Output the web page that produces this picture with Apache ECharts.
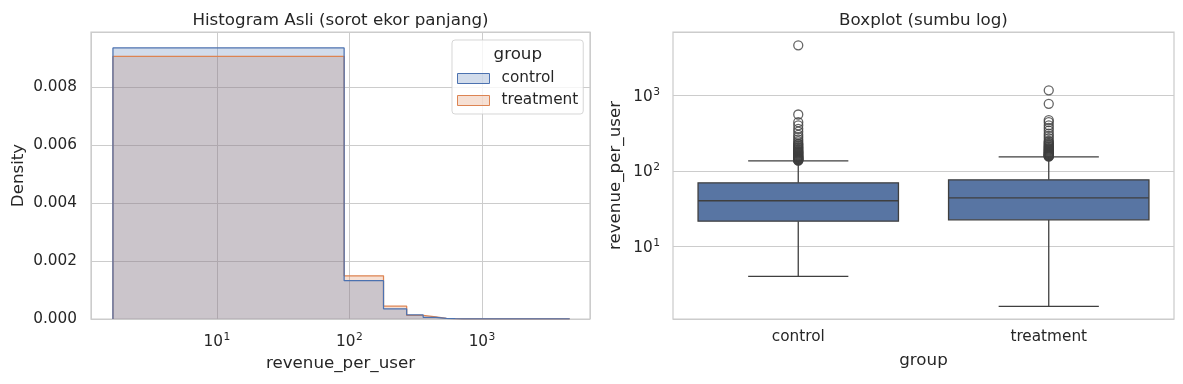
<!DOCTYPE html>
<html><head><meta charset="utf-8">
<script src="https://cdn.jsdelivr.net/npm/echarts@6/dist/echarts.min.js"></script>
<style>html,body{margin:0;padding:0;background:#fff}#c{width:1183px;height:384px}</style>
</head><body><div id="c"></div>
<script>
// ---- data ----
const groups = ['control', 'treatment'];
const binEdges = [1.64, 91.1, 180.6, 270.1, 359.6, 449.1, 538.6, 628.1, 717.6, 4590];
const controlDensity   = [0.00935, 0.00132, 0.000352, 0.000138, 0.00006, 0.000025, 0.000012, 0.000005, 0.000002];
const treatmentDensity = [0.00906, 0.00149, 0.00044, 0.000125, 0.00007, 0.00002, 0.00001, 0.000005, 0.000001];
// [lower whisker, Q1, median, Q3, upper whisker]
const controlBox   = [4.0, 21.5, 40.1, 69.3, 135.5];
const treatmentBox = [1.6, 22.4, 43.9, 76.0, 153];
const controlOutliers = [4590, 557, 440, 400, 360, 330, 300, 280, 260, 245, 230, 225, 218, 210, 205, 200, 195, 190, 185, 182, 178, 175, 172, 170, 166, 163, 160, 157, 155, 152, 151, 149, 147, 145, 143, 142, 140, 139, 138, 136];
const treatmentOutliers = [1165, 771, 470, 440, 400, 370, 340, 310, 290, 270, 250, 242, 235, 228, 222, 215, 210, 205, 200, 196, 192, 188, 185, 181, 178, 175, 172, 169, 167, 164, 162, 160, 158, 157, 156, 154];
const logTickValues = [10, 100, 1000];
const logTickLabels = ['{b|10}{s|1}', '{b|10}{s|2}', '{b|10}{s|3}'];
const densityTickStep = 0.002;

// ---- helpers ----
const FONT = 'DejaVu Sans';
const TXT = '#262626';
const GRID = '#cccccc';
function stepPoints(edges, dens) {
  const pts = [[edges[0], 0]];
  for (let i = 0; i < dens.length; i++) {
    pts.push([edges[i], dens[i]]);
    pts.push([edges[i + 1], dens[i]]);
  }
  pts.push([edges[edges.length - 1], 0]);
  return pts;
}
function logLabel(v) {
  for (let i = 0; i < logTickValues.length; i++) {
    if (Math.abs(v - logTickValues[i]) / logTickValues[i] < 1e-6) return logTickLabels[i];
  }
  return '';
}
const supRich = {
  b: {fontFamily: FONT, fontSize: 15.3, color: TXT, verticalAlign: 'bottom'},
  s: {fontFamily: FONT, fontSize: 10.7, color: TXT, verticalAlign: 'bottom', padding: [0, 0, 7, 0.5]}
};
const boxData = [controlBox, treatmentBox].map((b, i) => [i].concat(b));
const outlierData = [];
[controlOutliers, treatmentOutliers].forEach((arr, i) => arr.forEach(v => outlierData.push([i, v])));

const chart = echarts.init(document.getElementById('c'), null, {renderer: 'canvas'});
chart.setOption({
  animation: false,
  backgroundColor: '#ffffff',
  textStyle: {fontFamily: FONT, color: TXT},
  graphic: [
    {type: 'text', x: 340.5, y: 21, style: {text: 'Histogram Asli (sorot ekor panjang)', font: '16.7px "DejaVu Sans"', fill: TXT, align: 'center', verticalAlign: 'middle', textAlign: 'center', textVerticalAlign: 'middle'}},
    {type: 'text', x: 923.5, y: 21, style: {text: 'Boxplot (sumbu log)', font: '16.7px "DejaVu Sans"', fill: TXT, align: 'center', verticalAlign: 'middle', textAlign: 'center', textVerticalAlign: 'middle'}},
    {type: 'text', x: 517.8, y: 55, z: 100, style: {text: 'group', font: '16.7px "DejaVu Sans"', fill: TXT, align: 'center', verticalAlign: 'middle', textAlign: 'center', textVerticalAlign: 'middle'}}
  ],
  grid: [
    {left: 91, top: 32, width: 499, height: 287, show: true, borderColor: GRID, borderWidth: 1.25, backgroundColor: 'transparent'},
    {left: 673, top: 32, width: 501, height: 287, show: true, borderColor: GRID, borderWidth: 1.25, backgroundColor: 'transparent'}
  ],
  legend: {
    left: 452, top: 40, orient: 'vertical', itemWidth: 32, itemHeight: 10, itemGap: 7,
    padding: [31, 5, 6, 5], backgroundColor: 'rgba(255,255,255,0.8)', borderColor: 'rgba(204,204,204,0.8)',
    borderWidth: 1, borderRadius: 3,
    textStyle: {fontFamily: FONT, fontSize: 15.3, color: TXT, padding: [0, 0, 0, 7]},
    data: [
      {name: 'control', icon: 'rect', itemStyle: {color: 'rgba(76,114,176,0.25)', borderColor: '#4c72b0', borderWidth: 1}},
      {name: 'treatment', icon: 'rect', itemStyle: {color: 'rgba(221,132,82,0.25)', borderColor: '#dd8452', borderWidth: 1}}
    ]
  },
  xAxis: [
    {type: 'log', gridIndex: 0, min: 1.12, max: 6530,
     axisLine: {show: false}, axisTick: {show: false},
     splitLine: {show: true, lineStyle: {color: GRID, width: 1}},
     axisLabel: {formatter: logLabel, rich: supRich, fontFamily: FONT, fontSize: 15.3, color: TXT, margin: 13},
     name: 'revenue_per_user', nameLocation: 'middle', nameGap: 36,
     nameTextStyle: {fontFamily: FONT, fontSize: 16.7, color: TXT}},
    {type: 'category', gridIndex: 1, data: groups, boundaryGap: true,
     axisLine: {show: false}, axisTick: {show: false}, splitLine: {show: false},
     axisLabel: {fontFamily: FONT, fontSize: 15.3, color: TXT, margin: 11},
     name: 'group', nameLocation: 'middle', nameGap: 33,
     nameTextStyle: {fontFamily: FONT, fontSize: 16.7, color: TXT}}
  ],
  yAxis: [
    {type: 'value', gridIndex: 0, min: 0, max: 0.0099, interval: densityTickStep,
     axisLine: {show: false}, axisTick: {show: false},
     splitLine: {show: true, lineStyle: {color: GRID, width: 1}},
     axisLabel: {fontFamily: FONT, fontSize: 15.3, color: TXT, margin: 14,
       formatter: v => (Math.abs(v / densityTickStep - Math.round(v / densityTickStep)) < 1e-6 ? v.toFixed(3) : '')},
     name: 'Density', nameLocation: 'middle', nameGap: 64,
     nameTextStyle: {fontFamily: FONT, fontSize: 16.7, color: TXT}},
    {type: 'log', gridIndex: 1, min: 1.09, max: 6890,
     axisLine: {show: false}, axisTick: {show: false},
     splitLine: {show: true, lineStyle: {color: GRID, width: 1}},
     axisLabel: {formatter: logLabel, rich: supRich, fontFamily: FONT, fontSize: 15.3, color: TXT, margin: 13},
     name: 'revenue_per_user', nameLocation: 'middle', nameGap: 49,
     nameTextStyle: {fontFamily: FONT, fontSize: 16.7, color: TXT}}
  ],
  series: [
    {name: 'treatment', type: 'line', xAxisIndex: 0, yAxisIndex: 0, data: stepPoints(binEdges, treatmentDensity),
     showSymbol: false, symbol: 'none', lineStyle: {color: '#dd8452', width: 1.25},
     itemStyle: {color: '#dd8452'}, areaStyle: {color: 'rgba(221,132,82,0.25)', opacity: 1}},
    {name: 'control', type: 'line', xAxisIndex: 0, yAxisIndex: 0, data: stepPoints(binEdges, controlDensity),
     showSymbol: false, symbol: 'none', lineStyle: {color: '#4c72b0', width: 1.25},
     itemStyle: {color: '#4c72b0'}, areaStyle: {color: 'rgba(76,114,176,0.25)', opacity: 1}},
    {type: 'custom', xAxisIndex: 1, yAxisIndex: 1, data: boxData,
     encode: {x: 0, y: [1, 2, 3, 4, 5]},
     renderItem: function (params, api) {
       const i = api.value(0);
       const p = [1, 2, 3, 4, 5].map(k => api.coord([i, api.value(k)]));
       const band = api.size([1, 10], [i, 10])[0];
       const cx = p[0][0];
       const bw = band * 0.4, cw = band * 0.2;
       const ls = {stroke: '#3f3f3f', lineWidth: 1.3};
       return {type: 'group', children: [
         {type: 'line', shape: {x1: cx, y1: p[3][1], x2: cx, y2: p[4][1]}, style: ls},
         {type: 'line', shape: {x1: cx, y1: p[1][1], x2: cx, y2: p[0][1]}, style: ls},
         {type: 'line', shape: {x1: cx - cw, y1: p[4][1], x2: cx + cw, y2: p[4][1]}, style: ls},
         {type: 'line', shape: {x1: cx - cw, y1: p[0][1], x2: cx + cw, y2: p[0][1]}, style: ls},
         {type: 'rect', shape: {x: cx - bw, y: p[3][1], width: 2 * bw, height: p[1][1] - p[3][1]},
          style: {fill: '#5875a3', stroke: '#3f3f3f', lineWidth: 1.3}},
         {type: 'line', shape: {x1: cx - bw, y1: p[2][1], x2: cx + bw, y2: p[2][1]}, style: ls}
       ]};
     }},
    {type: 'scatter', xAxisIndex: 1, yAxisIndex: 1, data: outlierData, symbol: 'circle', symbolSize: 9,
     itemStyle: {color: 'rgba(0,0,0,0)', borderColor: '#3f3f3f', borderWidth: 1.3}, z: 5}
  ]
});
</script></body></html>
